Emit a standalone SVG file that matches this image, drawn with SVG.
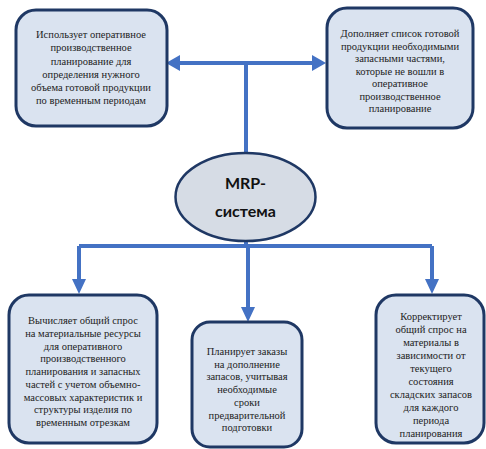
<svg xmlns="http://www.w3.org/2000/svg" width="486" height="449" viewBox="0 0 486 449">
<defs>
<style>
.box{fill:#dae3f0;stroke:#1f3864;stroke-width:3}
.ell{fill:#d6dce5;stroke:#1f3864;stroke-width:2.5}
.t{font-size:10.5px;fill:#222;text-anchor:middle}
.m{font-size:16px;font-weight:bold;fill:#111;text-anchor:middle}
.ln{fill:none;stroke:#4472c4;stroke-width:4}
.ah{fill:#4472c4}
</style>
</defs>
<g id="connectors">
<path class="ln" d="M178 63H315M246 63V153"/>
<polygon class="ah" points="166,63 180,55 180,71"/>
<polygon class="ah" points="326,63 312,55 312,71"/>
<path class="ln" d="M246 242V246M79 246H432M79 246V280M432 246V280M248 246V308"/>
<polygon class="ah" points="79,294 72,279 86,279"/>
<polygon class="ah" points="432,294 425,279 439,279"/>
<polygon class="ah" points="248,322 241,307 255,307"/>
</g>
<g id="node-top-left" font-family="'Liberation Serif', 'DejaVu Serif', serif">
<rect class="box" x="16" y="10" width="151" height="116" rx="20"/>
<text class="t" x="91" y="38">Использует оперативное</text>
<text class="t" x="91" y="51">производственное</text>
<text class="t" x="91" y="64.5">планирование для</text>
<text class="t" x="91" y="77.5">определения нужного</text>
<text class="t" x="91" y="91">объема готовой продукции</text>
<text class="t" x="91" y="104">по временным периодам</text>
</g>
<g id="node-top-right" font-family="'Liberation Serif', 'DejaVu Serif', serif">
<rect class="box" x="327" y="8" width="146" height="120" rx="20"/>
<text class="t" x="400" y="37">Дополняет список готовой</text>
<text class="t" x="400" y="49.5">продукции необходимыми</text>
<text class="t" x="400" y="62">запасными частями,</text>
<text class="t" x="400" y="74.5">которые не вошли в</text>
<text class="t" x="400" y="87">оперативное</text>
<text class="t" x="400" y="99.5">производственное</text>
<text class="t" x="400" y="112">планирование</text>
</g>
<g id="node-mrp" font-family="Lato, 'Open Sans', sans-serif">
<ellipse class="ell" cx="245.5" cy="197" rx="70" ry="44"/>
<text class="m" x="245.5" y="189">MRP-</text>
<text class="m" x="245.5" y="217">система</text>
</g>
<g id="node-bottom-left" font-family="'Liberation Serif', 'DejaVu Serif', serif">
<rect class="box" x="9" y="295" width="148" height="148" rx="20"/>
<text class="t" x="83" y="324">Вычисляет общий спрос</text>
<text class="t" x="83" y="336.8">на материальные ресурсы</text>
<text class="t" x="83" y="349.5">для оперативного</text>
<text class="t" x="83" y="362.3">производственного</text>
<text class="t" x="83" y="375">планирования и запасных</text>
<text class="t" x="83" y="387.8">частей с учетом объемно-</text>
<text class="t" x="83" y="400.5">массовых характеристик и</text>
<text class="t" x="83" y="413.3">структуры изделия по</text>
<text class="t" x="83" y="426">временным отрезкам</text>
</g>
<g id="node-bottom-middle" font-family="'Liberation Serif', 'DejaVu Serif', serif">
<rect class="box" x="192" y="322" width="110" height="125" rx="18"/>
<text class="t" x="247" y="355">Планирует заказы</text>
<text class="t" x="247" y="367.7">на дополнение</text>
<text class="t" x="247" y="380.4">запасов, учитывая</text>
<text class="t" x="247" y="393.1">необходимые</text>
<text class="t" x="247" y="405.8">сроки</text>
<text class="t" x="247" y="418.5">предварительной</text>
<text class="t" x="247" y="431.2">подготовки</text>
</g>
<g id="node-bottom-right" font-family="'Liberation Serif', 'DejaVu Serif', serif">
<rect class="box" x="376" y="295" width="108" height="148" rx="20"/>
<text class="t" x="431" y="320">Корректирует</text>
<text class="t" x="431" y="333">общий спрос на</text>
<text class="t" x="431" y="346">материалы в</text>
<text class="t" x="431" y="359">зависимости от</text>
<text class="t" x="431" y="372">текущего</text>
<text class="t" x="431" y="385">состояния</text>
<text class="t" x="431" y="398">складских запасов</text>
<text class="t" x="431" y="411">для каждого</text>
<text class="t" x="431" y="424">периода</text>
<text class="t" x="431" y="437">планирования</text>
</g>
</svg>
